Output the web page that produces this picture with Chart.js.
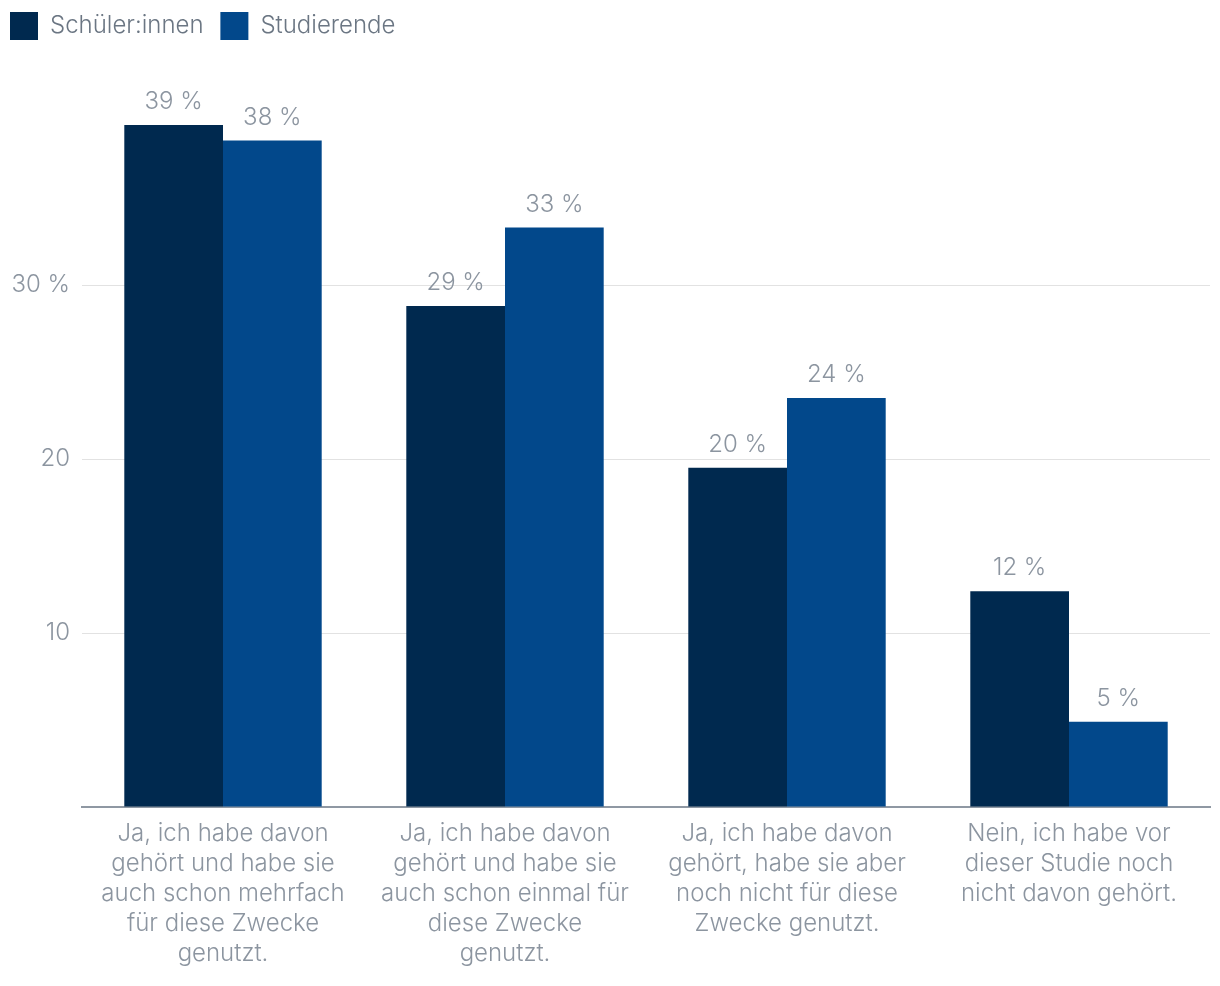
<!DOCTYPE html>
<html lang="de">
<head>
<meta charset="utf-8">
<title>Bekanntheit und Nutzung</title>
<script src="https://cdn.jsdelivr.net/npm/chart.js@4.4.1/dist/chart.umd.min.js"></script>
<style>
  html, body { margin: 0; padding: 0; background: #fff; }
  #wrap { width: 1220px; height: 986px; position: relative; }
</style>
</head>
<body>
<div id="wrap"><canvas id="chart"></canvas></div>
<script>
'use strict'
// daten
const categories = [
    ['Ja, ich habe davon', 'gehört und habe sie', 'auch schon mehrfach', 'für diese Zwecke', 'genutzt.'],
    ['Ja, ich habe davon', 'gehört und habe sie', 'auch schon einmal für', 'diese Zwecke', 'genutzt.'],
    ['Ja, ich habe davon', 'gehört, habe sie aber', 'noch nicht für diese', 'Zwecke genutzt.'],
    ['Nein, ich habe vor', 'dieser Studie noch', 'nicht davon gehört.']
]
const seriesNames = ['Schüler:innen', 'Studierende']
const schueler = [39.2, 28.8, 19.5, 12.4]
const studierende = [38.3, 33.3, 23.5, 4.9]
const yTicks = [10, 20, 30]

const FONT = 'Inter, "Noto Sans", sans-serif'
const textGrey = '#8c95a0'

// platz unter der legende, damit die y-achse bei 40 endet
const legendSpace = {
    id: 'legendSpace',
    beforeInit(chart) {
        const fit = chart.legend.fit
        chart.legend.fit = function () {
            fit.bind(chart.legend)()
            this.height = 109
        }
    }
}

// werte ueber den balken
const barValues = {
    id: 'barValues',
    afterDatasetsDraw(chart) {
        const ctx = chart.ctx
        ctx.save()
        ctx.font = '300 24px ' + FONT
        ctx.fillStyle = textGrey
        ctx.textAlign = 'center'
        ctx.textBaseline = 'alphabetic'
        chart.data.datasets.forEach((ds, i) => {
            chart.getDatasetMeta(i).data.forEach((bar, j) => {
                ctx.fillText(Math.round(ds.data[j]) + ' %', bar.x, bar.y - 16)
            })
        })
        ctx.restore()
    }
}

const ctx = document.getElementById('chart').getContext('2d')
const myChart = new Chart(ctx, {
    type: 'bar',
    data: {
        labels: categories,
        datasets: [{
            label: seriesNames[0],
            data: schueler,
            backgroundColor: '#00294f',
            borderWidth: 0
        }, {
            label: seriesNames[1],
            data: studierende,
            backgroundColor: '#02488b',
            borderWidth: 0
        }]
    },
    options: {
        responsive: true,
        maintainAspectRatio: false,
        animation: false,
        categoryPercentage: 0.7,
        barPercentage: 1.0,
        layout: { padding: { top: 2, left: 0, right: 10, bottom: 0 } },
        plugins: {
            tooltip: { enabled: false },
            legend: {
                position: 'top',
                align: 'start',
                labels: {
                    boxWidth: 28,
                    boxHeight: 28,
                    padding: 10,
                    color: '#6b7683',
                    font: { family: FONT, size: 24, weight: '300' },
                    generateLabels(chart) {
                        // etwas mehr abstand zwischen den eintraegen
                        const items = Chart.defaults.plugins.legend.labels.generateLabels(chart)
                        items.forEach((it, i) => { if (i < items.length - 1) it.text = it.text + ' ' })
                        return items
                    }
                }
            }
        },
        scales: {
            x: {
                grid: { display: false, drawTicks: false },
                border: { display: true, color: '#8f98a3', width: 2 },
                ticks: {
                    color: textGrey,
                    padding: 12,
                    maxRotation: 0,
                    autoSkip: false,
                    font: { family: FONT, size: 24, weight: '300', lineHeight: 1.25 }
                },
                afterFit(scale) { scale.height = 179 }
            },
            y: {
                min: 0,
                max: 40,
                border: { display: false },
                grid: {
                    drawTicks: false,
                    lineWidth: 1,
                    color: c => yTicks.includes(c.tick.value) ? '#e2e2e2' : 'rgba(0,0,0,0)'
                },
                ticks: {
                    stepSize: 10,
                    padding: 12,
                    color: textGrey,
                    font: { family: FONT, size: 24, weight: '300' },
                    callback: v => yTicks.includes(v) ? (v === 30 ? v + ' %' : v) : ''
                },
                afterFit(scale) { scale.width = 82 }
            }
        }
    },
    plugins: [legendSpace, barValues]
})
</script>
</body>
</html>
